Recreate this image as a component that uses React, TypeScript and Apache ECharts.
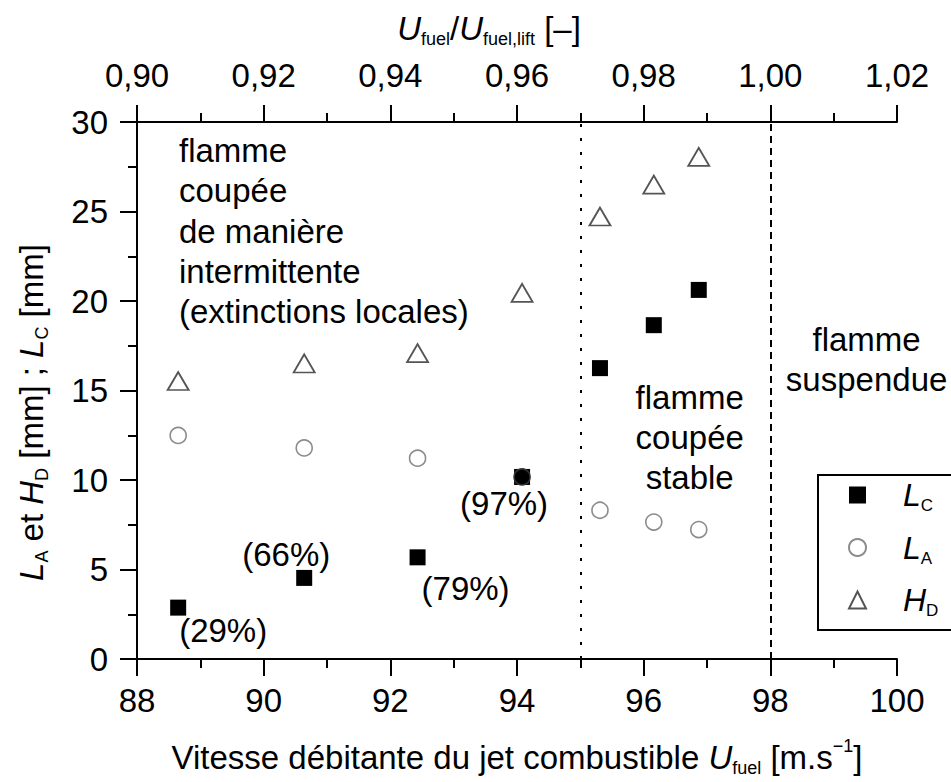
import React, { useEffect, useRef } from "react";
import * as echarts from "echarts";

// ---- data ----
const velocities = [88.65, 90.64, 92.43, 94.08, 95.31, 96.16, 96.87];
const lengthLC = [2.87, 4.53, 5.68, 10.17, 16.25, 18.65, 20.62];
const lengthLA = [12.49, 11.79, 11.22, 10.17, 8.31, 7.65, 7.23];
const heightHD = [15.53, 16.51, 17.09, 20.45, 24.72, 26.5, 28.05];
const cutFractions = ["(29%)", "(66%)", "(79%)", "(97%)", "", "", ""];
const regimeBounds = [95, 98];
const leftRegimeText = "flamme\ncoupée\nde manière\nintermittente\n(extinctions locales)";
const midRegimeText = "flamme\ncoupée\nstable";
const rightRegimeText = "flamme\nsuspendue";

// ---- layout / style (kept separate from data) ----
const cutLabelOffsets = [
  [45, 23],
  [-18, -23],
  [48, 31],
  [-18, 27],
  [0, 0],
  [0, 0],
  [0, 0],
];
const FONT = "'Liberation Sans', Arial, Helvetica, sans-serif";
const FS = 33;

const richBase = {
  i: { fontStyle: "italic", fontSize: FS, fontFamily: FONT, color: "#000", lineHeight: 40 },
  sub: { fontSize: 18, fontFamily: FONT, color: "#000", verticalAlign: "bottom", lineHeight: 12 },
  sup: { fontSize: 18, fontFamily: FONT, color: "#000", verticalAlign: "top", lineHeight: 22 },
};

const axisCommon = {
  axisLine: { show: true, onZero: false, lineStyle: { color: "#000", width: 2 } },
  axisTick: { show: true, inside: false, length: 17, lineStyle: { color: "#000", width: 2 } },
  minorTick: { show: true, splitNumber: 2, length: 9, lineStyle: { color: "#000", width: 2 } },
  splitLine: { show: false },
  minorSplitLine: { show: false },
};
const labelCommon = { color: "#000", fontSize: FS, fontFamily: FONT };

export default function App() {
  const ref = useRef<HTMLDivElement>(null);

  useEffect(() => {
    if (!ref.current) return;
    const chart = echarts.init(ref.current, null, { renderer: "svg" });

    const lcData = velocities.map((x, i) => ({
      value: [x, lengthLC[i]],
      label: {
        show: cutFractions[i] !== "",
        formatter: cutFractions[i],
        position: "inside",
        offset: cutLabelOffsets[i],
        ...labelCommon,
      },
    }));
    const laData = velocities.map((x, i) =>
      lengthLA[i] === lengthLC[i]
        ? { value: [x, lengthLA[i]], itemStyle: { color: "#000", borderColor: "#333" } }
        : { value: [x, lengthLA[i]] }
    );
    const hdData = velocities.map((x, i) => [x, heightHD[i]]);

    const legendNames: Record<string, string> = {
      LC: "{i|L}{sub|C}",
      LA: "{i|L}{sub|A}",
      HD: "{i|H}{sub|D}",
    };

    chart.setOption({
      animation: false,
      backgroundColor: "#fff",
      grid: { left: 137, right: 54, top: 122, bottom: 119, containLabel: false },
      xAxis: [
        {
          type: "value",
          position: "bottom",
          min: 88,
          max: 100,
          interval: 2,
          ...axisCommon,
          axisLabel: { ...labelCommon, margin: 25 },
          name: "Vitesse débitante du jet combustible {i|U}{sub|fuel} [m.s{sup|−1}]",
          nameLocation: "middle",
          nameGap: 78,
          nameTextStyle: { ...labelCommon, lineHeight: 40, rich: richBase },
        },
        {
          type: "value",
          position: "top",
          min: 0.9,
          max: 1.02,
          interval: 0.02,
          ...axisCommon,
          axisLabel: {
            ...labelCommon,
            margin: 30,
            formatter: (v: number) => v.toFixed(2).replace(".", ","),
          },
          name: "{i|U}{sub|fuel}/{i|U}{sub|fuel,lift} [–]",
          nameLocation: "middle",
          nameGap: 74,
          nameTextStyle: { ...labelCommon, lineHeight: 40, padding: [0, 56, 0, 0], rich: richBase },
        },
      ],
      yAxis: {
        type: "value",
        min: 0,
        max: 30,
        interval: 5,
        ...axisCommon,
        axisLabel: { ...labelCommon, margin: 29 },
        name: "{i|L}{sub|A} et {i|H}{sub|D} [mm] ; {i|L}{sub|C} [mm]",
        nameLocation: "middle",
        nameGap: 86,
        nameTextStyle: { ...labelCommon, lineHeight: 40, padding: [0, 44, 0, 0], rich: richBase },
      },
      legend: {
        orient: "vertical",
        left: 818,
        top: 475,
        padding: [1, 16, 11, 30],
        itemWidth: 17,
        itemHeight: 17,
        itemGap: 14.5,
        borderColor: "#000",
        borderWidth: 2,
        backgroundColor: "#fff",
        data: ["LC", "LA", "HD"],
        formatter: (n: string) => legendNames[n],
        textStyle: {
          padding: [0, 0, 0, 32],
          lineHeight: 38,
          rich: {
            i: { fontStyle: "italic", fontSize: 32, fontFamily: FONT, color: "#000", lineHeight: 38 },
            sub: { fontSize: 17, fontFamily: FONT, color: "#000", verticalAlign: "bottom", lineHeight: 2 },
          },
        },
      },
      series: [
        {
          name: "LC",
          type: "scatter",
          xAxisIndex: 0,
          symbol: "rect",
          symbolSize: 16,
          itemStyle: { color: "#000", opacity: 1 },
          data: lcData,
          z: 2,
          markLine: {
            silent: true,
            symbol: ["none", "none"],
            label: { show: false },
            data: [
              { xAxis: regimeBounds[0], lineStyle: { color: "#000", width: 2, type: [3, 11] } },
              { xAxis: regimeBounds[1], lineStyle: { color: "#000", width: 2, type: [7, 5] } },
            ],
          },
        },
        {
          name: "LA",
          type: "scatter",
          xAxisIndex: 0,
          symbol: "circle",
          symbolSize: 16,
          itemStyle: { color: "rgba(255,255,255,0)", borderColor: "#8c8c8c", borderWidth: 1.6, opacity: 1 },
          data: laData,
          z: 3,
        },
        {
          name: "HD",
          type: "scatter",
          xAxisIndex: 0,
          symbol: "triangle",
          symbolSize: [21, 18],
          itemStyle: { color: "rgba(255,255,255,0)", borderColor: "#555", borderWidth: 1.8, opacity: 1 },
          data: hdData,
          z: 3,
        },
      ],
      graphic: [
        {
          type: "text",
          left: 179,
          top: 130,
          style: { text: leftRegimeText, fontSize: FS, fontFamily: FONT, fill: "#000", lineHeight: 40.4 },
        },
        {
          type: "text",
          x: 689.7,
          y: 378,
          style: {
            text: midRegimeText,
            fontSize: FS,
            fontFamily: FONT,
            fill: "#000",
            lineHeight: 39.8,
            align: "center",
            verticalAlign: "top",
          },
        },
        {
          type: "text",
          x: 866.6,
          y: 319,
          style: {
            text: rightRegimeText,
            fontSize: FS,
            fontFamily: FONT,
            fill: "#000",
            lineHeight: 40.5,
            align: "center",
            verticalAlign: "top",
          },
        },
      ],
    });

    return () => chart.dispose();
  }, []);

  return (
    <div
      ref={ref}
      style={{ position: "absolute", left: 0, top: 0, width: 951, height: 782 }}
    />
  );
}
